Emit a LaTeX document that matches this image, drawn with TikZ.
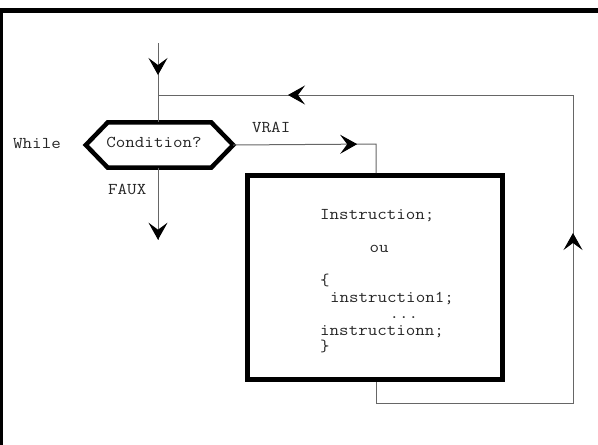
\documentclass[tikz,border=0pt]{standalone}
\usepackage{fontspec}
\setmonofont[FakeStretch=1.12]{Latin Modern Mono}
\usetikzlibrary{arrows.meta,decorations.markings}
\tikzset{
  thinline/.style={draw=black!60, line width=1pt},
  midarrow/.style={postaction={decorate,decoration={markings,
      mark=at position #1 with {\arrow[black]{Stealth[length=17pt,width=19pt,inset=7pt]}}}}},
  lbl/.style={font=\ttfamily\fontsize{16.5}{16.5}\selectfont, text=black!85, inner sep=0pt},
  hexnode/.style={rectangle, draw=none, minimum width=147pt, minimum height=45pt, inner sep=0pt},
  instrbox/.style={rectangle, draw=black, line width=5pt, minimum width=255pt, minimum height=204pt, inner sep=0pt},
}
\begin{document}
\begin{tikzpicture}[x=1pt,y=-1pt]
\useasboundingbox (0,0) rectangle (598,445);
% frame (top and left only)
\draw[line width=4.5pt] (0,10.5) -- (598,10.5);
\draw[line width=3.3pt] (1.7,8.3) -- (1.7,445);

% nodes
\node[hexnode] (hex) at (159.5,145) {};
\draw[line width=4.5pt, line join=miter]
  (hex.west) -- ([xshift=22pt]hex.north west) -- ([xshift=-22pt]hex.north east)
  -- (hex.east) -- ([xshift=-22pt]hex.south east) -- ([xshift=22pt]hex.south west) -- cycle;
\node[lbl, anchor=base] (cond) at (154,147) {Condition?};
\node[instrbox] (box) at (375,277.5) {};
\node[lbl, anchor=north west, align=left] (code) at (320,209.5)
  {Instruction;\\ \mbox{}\\ \hspace*{3em}ou\\ \mbox{}\\ \{\\ \hspace*{0.6em}instruction1;\\ \hspace*{4.2em}...\\ instructionn;\\ \}};

\node[lbl, anchor=base west] (while) at (13,148) {While};
\node[lbl, anchor=base west] (vrai) at (252,132) {VRAI};
\node[lbl, anchor=base west] (faux) at (108,194) {FAUX};

% coordinates
\coordinate (start) at (158,43);
\coordinate (out) at (158,240);
\coordinate (join) at (158,95);
\coordinate (vr) at (376,144);
\coordinate (bl) at (376,403);
\coordinate (br) at (573,403);
\coordinate (tr) at (573,95);

% connectors
\draw[thinline, midarrow=32pt] (start) -- (hex.north -| start);
\draw[thinline, midarrow=72pt] (hex.south -| start) -- (out);
\draw[thinline, midarrow=124pt] (hex.east) -- (vr) -- (vr |- box.north);
\draw[thinline, midarrow=388pt, midarrow=811pt] (bl |- box.south) -- (bl) -- (br) -- (tr) -- (join);
\end{tikzpicture}
\end{document}
